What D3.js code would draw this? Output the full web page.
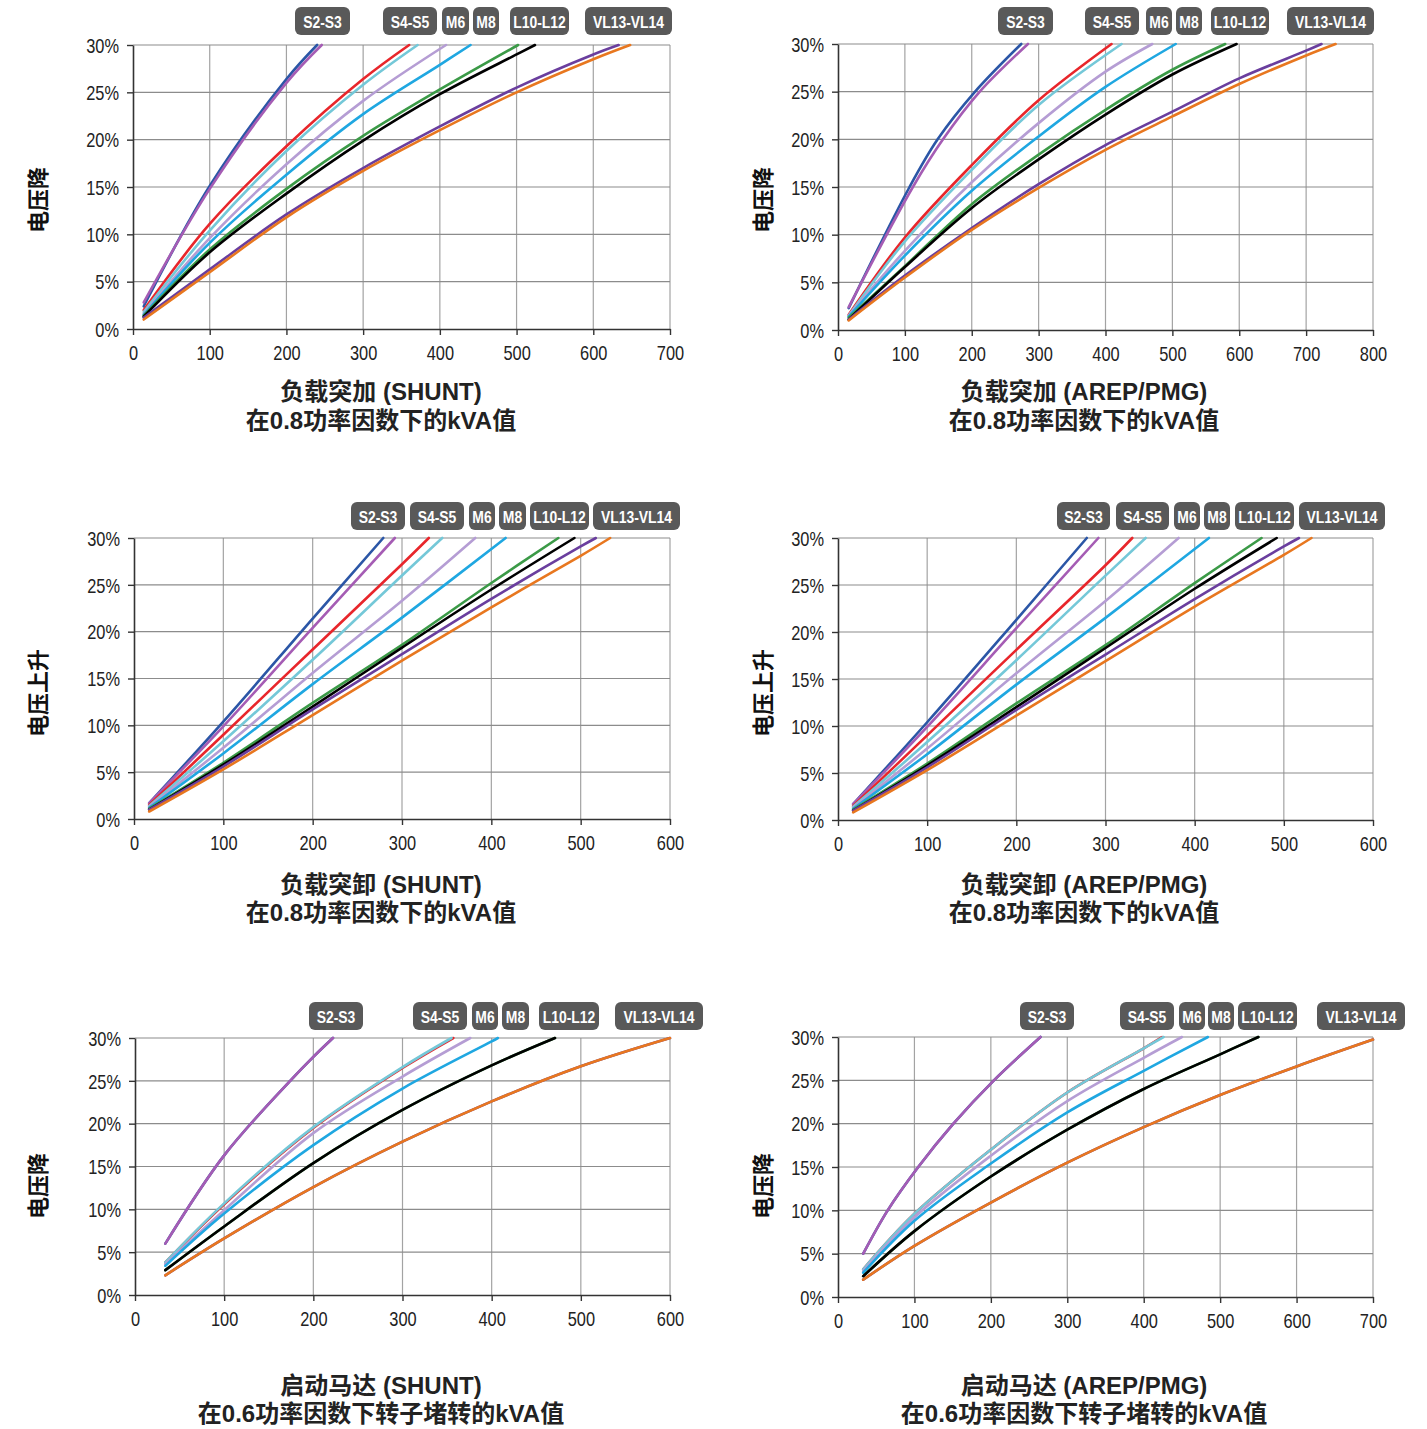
<!DOCTYPE html>
<html><head><meta charset="utf-8">
<script src="https://cdn.jsdelivr.net/npm/d3@7"></script>
<style>
html,body{margin:0;padding:0;background:#fff;}
svg{display:block;}
</style></head>
<body>
<svg id="chart" width="1427" height="1429"></svg>
<script>
// ---------------- DATA ----------------
const seriesNames = ["S2","S3","S4","S5","M6","M8","L10","L12","VL13","VL14"];
const legendLabels = ["S2-S3","S4-S5","M6","M8","L10-L12","VL13-VL14"];
const yTicks = [0,5,10,15,20,25,30];
const xTicks700 = [0,100,200,300,400,500,600,700];
const xTicks800 = [0,100,200,300,400,500,600,700,800];
const xTicks600 = [0,100,200,300,400,500,600];

// each series: [kVA, voltage %] points
const loadStepShunt = [
  [[14,2.4],[100,15.1],[200,26.4],[240,30]],
  [[14,2.8],[100,14.8],[200,26.0],[246,30]],
  [[14,2.0],[100,11.1],[200,19.3],[300,26.4],[360,30]],
  [[14,1.8],[100,10.4],[200,18.8],[300,25.8],[371,30]],
  [[14,1.6],[100,9.6],[200,17.4],[300,24.1],[408,30]],
  [[14,1.5],[100,9.1],[200,16.3],[300,22.7],[400,27.9],[440,30]],
  [[14,1.4],[100,8.4],[200,14.8],[300,20.4],[400,25.3],[502,30]],
  [[14,1.3],[100,8.1],[200,14.3],[300,19.9],[400,24.8],[500,29.0],[524,30]],
  [[14,1.2],[100,6.3],[200,12.1],[300,17.0],[400,21.4],[500,25.5],[600,29.0],[633,30]],
  [[14,1.0],[100,6.0],[200,11.8],[300,16.7],[400,21.0],[500,25.0],[600,28.5],[648,30]]
];
const loadStepArep = [
  [[16,2.3],[107,15],[149,20],[205,25],[274,30]],
  [[16,2.4],[112,15],[157,20],[212,25],[284,30]],
  [[16,1.6],[100,9.7],[200,17.3],[300,24.1],[409,30]],
  [[16,1.5],[100,9.3],[200,16.8],[300,23.6],[424,30]],
  [[16,1.5],[100,8.3],[200,15.5],[300,21.7],[400,27.1],[470,30]],
  [[16,1.4],[100,7.8],[200,14.6],[300,20.3],[400,25.5],[505,30]],
  [[16,1.3],[100,6.7],[200,13.2],[300,18.4],[400,23.1],[500,27.3],[579,30]],
  [[16,1.1],[100,6.6],[200,12.8],[300,17.9],[400,22.6],[500,26.8],[596,30]],
  [[16,1.1],[100,5.7],[200,10.7],[300,15.3],[400,19.4],[500,22.9],[600,26.4],[700,29.3],[723,30]],
  [[16,1.0],[100,5.5],[200,10.5],[300,14.9],[400,18.9],[500,22.4],[600,25.8],[700,28.8],[744,30]]
];
const loadShedShunt = [
  [[17,1.7],[100,10.4],[200,21.4],[279,30]],
  [[17,1.7],[100,9.9],[200,20.4],[292,30]],
  [[17,1.5],[100,9.0],[200,18.1],[300,27.2],[330,30]],
  [[17,1.4],[100,8.3],[200,17.0],[300,26.0],[345,30]],
  [[17,1.3],[100,7.6],[200,15.6],[300,23.3],[382,30]],
  [[17,1.2],[100,7.0],[200,14.4],[300,21.5],[416,30]],
  [[17,1.1],[100,6.0],[200,12.4],[300,18.6],[400,25.2],[475,30]],
  [[17,1.0],[100,5.8],[200,12.0],[300,18.3],[400,24.5],[493,30]],
  [[17,1.0],[100,5.6],[200,11.7],[300,17.6],[400,23.5],[500,29.1],[517,30]],
  [[17,0.8],[100,5.3],[200,11.1],[300,16.9],[400,22.6],[500,28.1],[533,30]]
];
const loadShedArep = [
  [[17,1.7],[100,10.4],[200,21.3],[279,30]],
  [[17,1.7],[100,9.9],[200,20.4],[292,30]],
  [[17,1.5],[100,9.0],[200,18.1],[300,27.1],[330,30]],
  [[17,1.4],[100,8.3],[200,17.0],[300,26.0],[345,30]],
  [[17,1.3],[100,7.6],[200,15.6],[300,23.3],[382,30]],
  [[17,1.2],[100,7.0],[200,14.4],[300,21.5],[416,30]],
  [[17,1.1],[100,6.0],[200,12.4],[300,18.6],[400,25.2],[475,30]],
  [[17,1.0],[100,5.8],[200,12.0],[300,18.3],[400,24.6],[492,30]],
  [[17,1.0],[100,5.6],[200,11.7],[300,17.6],[400,23.5],[500,29.1],[517,30]],
  [[17,0.8],[100,5.3],[200,11.1],[300,16.9],[400,22.7],[500,28.2],[531,30]]
];
const motorStartShunt = [
  [[34,6.0],[100,16.3],[174,25],[200,27.8],[222,30]],
  [[34,6.0],[100,16.3],[174,25],[200,27.8],[222,30]],
  [[34,3.8],[100,10.6],[200,19.5],[300,26.5],[357,30]],
  [[34,3.8],[100,10.7],[200,19.6],[300,26.6],[355,30]],
  [[34,3.6],[100,9.9],[200,18.9],[300,25.5],[376,30]],
  [[34,3.4],[100,9.5],[200,17.5],[300,24.1],[400,29.6],[407,30]],
  [[34,2.9],[100,8.0],[200,15.4],[300,21.6],[400,26.8],[471,30]],
  [[34,2.9],[100,8.0],[200,15.4],[300,21.6],[400,26.8],[471,30]],
  [[34,2.3],[100,6.6],[200,12.6],[300,17.9],[400,22.6],[500,26.7],[600,30]],
  [[34,2.3],[100,6.6],[200,12.6],[300,17.9],[400,22.6],[500,26.7],[600,30]]
];
const motorStartArep = [
  [[33,5.0],[65,10],[105,15],[151,20],[204,25],[265,30]],
  [[33,5.0],[65,10],[105,15],[151,20],[204,25],[265,30]],
  [[33,3.2],[100,9.6],[200,17.0],[300,23.6],[400,28.7],[424,30]],
  [[33,3.2],[100,9.6],[200,17.0],[300,23.6],[400,28.7],[426,30]],
  [[33,3.0],[100,9.2],[200,16.3],[300,22.6],[400,27.6],[450,30]],
  [[33,2.8],[100,8.8],[200,15.4],[300,21.3],[400,26.1],[484,30]],
  [[33,2.4],[100,7.6],[200,13.9],[300,19.3],[400,24.0],[500,28.0],[550,30]],
  [[33,2.4],[100,7.6],[200,13.9],[300,19.3],[400,24.0],[500,28.0],[550,30]],
  [[33,2.0],[100,5.9],[200,10.9],[300,15.5],[400,19.6],[500,23.3],[600,26.6],[700,29.7]],
  [[33,2.0],[100,5.9],[200,10.9],[300,15.5],[400,19.6],[500,23.3],[600,26.6],[700,29.7]]
];

// ---------------- STYLE / LAYOUT ----------------
const seriesColors = ["#2B56A6","#A55CB4","#E8262B","#74C8D8","#B59DD4","#1FA7E1","#3B9A47","#000000","#6A3E9E","#E8771F"];
const panelLayouts = [
  {data:loadStepShunt, xTicks:xTicks700, x0:133, x1:670, yTop:45, yBot:329,
   yLabel:"电压降", yLabelX:38, yLabelY:200, title:["负载突加 (SHUNT)","在0.8功率因数下的kVA值"], titleX:381, titleY:[391,420],
   legY:7, legX:[[295,350],[383,437],[442,469],[473,499],[510,569],[585,672]]},
  {data:loadStepArep, xTicks:xTicks800, x0:838, x1:1373, yTop:44, yBot:330,
   yLabel:"电压降", yLabelX:763, yLabelY:200, title:["负载突加 (AREP/PMG)","在0.8功率因数下的kVA值"], titleX:1084, titleY:[391,420],
   legY:7, legX:[[998,1053],[1085,1139],[1146,1172],[1176,1202],[1211,1269],[1287,1374]]},
  {data:loadShedShunt, xTicks:xTicks600, x0:134, x1:670, yTop:538, yBot:819,
   yLabel:"电压上升", yLabelX:38, yLabelY:693, title:["负载突卸 (SHUNT)","在0.8功率因数下的kVA值"], titleX:381, titleY:[884,912],
   legY:502, legX:[[351,405],[410,464],[469,495],[499,526],[530,589],[593,680]]},
  {data:loadShedArep, xTicks:xTicks600, x0:838, x1:1373, yTop:538, yBot:820,
   yLabel:"电压上升", yLabelX:763, yLabelY:693, title:["负载突卸 (AREP/PMG)","在0.8功率因数下的kVA值"], titleX:1084, titleY:[884,912],
   legY:502, legX:[[1057,1110],[1116,1169],[1174,1200],[1204,1230],[1235,1294],[1299,1385]]},
  {data:motorStartShunt, xTicks:xTicks600, x0:135, x1:670, yTop:1038, yBot:1295,
   yLabel:"电压降", yLabelX:38, yLabelY:1186, title:["启动马达 (SHUNT)","在0.6功率因数下转子堵转的kVA值"], titleX:381, titleY:[1385,1413],
   legY:1002, legX:[[309,363],[413,467],[472,498],[502,529],[539,599],[615,703]]},
  {data:motorStartArep, xTicks:xTicks700, x0:838, x1:1373, yTop:1037, yBot:1297,
   yLabel:"电压降", yLabelX:763, yLabelY:1186, title:["启动马达 (AREP/PMG)","在0.6功率因数下转子堵转的kVA值"], titleX:1084, titleY:[1385,1413],
   legY:1002, legX:[[1020,1074],[1120,1174],[1179,1205],[1208,1234],[1238,1297],[1317,1405]]}
];

const svg = d3.select("#chart");
const titleFont = '"Liberation Sans","Noto Sans CJK SC",sans-serif';
const narrowFont = '"Liberation Sans",Arial,sans-serif';
const squeeze = 0.82;

panelLayouts.forEach(p => {
  const xMax = p.xTicks[p.xTicks.length-1];
  const x = d3.scaleLinear().domain([0,xMax]).range([p.x0,p.x1]);
  const y = d3.scaleLinear().domain([0,30]).range([p.yBot,p.yTop]);
  const g = svg.append("g");

  // grid
  g.append("g").selectAll("line").data(p.xTicks.slice(1)).join("line")
    .attr("x1",d=>x(d)).attr("x2",d=>x(d)).attr("y1",y(0)).attr("y2",y(30))
    .attr("stroke","#a3a3a3").attr("stroke-width",1.2);
  g.append("g").selectAll("line").data(yTicks.slice(1)).join("line")
    .attr("x1",x(0)).attr("x2",x(xMax)).attr("y1",d=>y(d)).attr("y2",d=>y(d))
    .attr("stroke","#8c8c8c").attr("stroke-width",1.2);

  // curves
  const line = d3.line().x(d=>x(d[0])).y(d=>y(d[1])).curve(d3.curveCatmullRom.alpha(0.5));
  g.append("g").selectAll("path").data(p.data).join("path")
    .attr("d",line).attr("fill","none")
    .attr("stroke",(d,i)=>seriesColors[i]).attr("stroke-width",2.6)
    .attr("stroke-linecap","round");

  // axes
  const ax = g.append("g").attr("transform",`translate(0,${y(0)})`)
    .call(d3.axisBottom(x).tickValues(p.xTicks).tickSize(6).tickPadding(11).tickSizeOuter(0));
  const ay = g.append("g").attr("transform",`translate(${x(0)},0)`)
    .call(d3.axisLeft(y).tickValues(yTicks).tickFormat(d=>d+"%").tickSize(6).tickPadding(8).tickSizeOuter(0));
  [ax,ay].forEach(a=>{
    a.select(".domain").attr("stroke","#333").attr("stroke-width",1.6);
    a.selectAll(".tick line").attr("stroke","#333").attr("stroke-width",1.4);
    a.selectAll(".tick text").style("font-family",narrowFont).style("font-size","20px").style("fill","#222")
      .attr("transform",`scale(${squeeze},1)`);
  });
  ax.selectAll(".tick text").attr("x",0);
  ay.selectAll(".tick text").attr("x",-14/squeeze).attr("dy","0.36em");

  // y label
  g.append("text").attr("transform",`translate(${p.yLabelX},${p.yLabelY}) rotate(-90)`)
    .attr("text-anchor","middle").attr("dominant-baseline","central")
    .style("font-family",titleFont).style("font-weight","bold").style("font-size","22px").style("fill","#111")
    .text(p.yLabel);

  // titles
  p.title.forEach((t,i)=>{
    g.append("text").attr("x",p.titleX).attr("y",p.titleY[i])
      .attr("text-anchor","middle").attr("dominant-baseline","central")
      .style("font-family",titleFont).style("font-weight","bold").style("font-size","24px").style("fill","#222")
      .text(t);
  });

  // legend boxes
  const lg = g.append("g");
  legendLabels.forEach((lab,i)=>{
    const [l,r] = p.legX[i];
    lg.append("rect").attr("x",l).attr("y",p.legY).attr("width",r-l).attr("height",28)
      .attr("rx",6).attr("ry",6).attr("fill","#595959");
    lg.append("text").attr("x",((l+r)/2)/squeeze).attr("y",p.legY+14.5)
      .attr("transform",`scale(${squeeze},1)`)
      .attr("text-anchor","middle").attr("dominant-baseline","central")
      .style("font-family",narrowFont).style("font-weight","bold").style("font-size","17px").style("fill","#fff")
      .text(lab);
  });
});
</script>
</body></html>
